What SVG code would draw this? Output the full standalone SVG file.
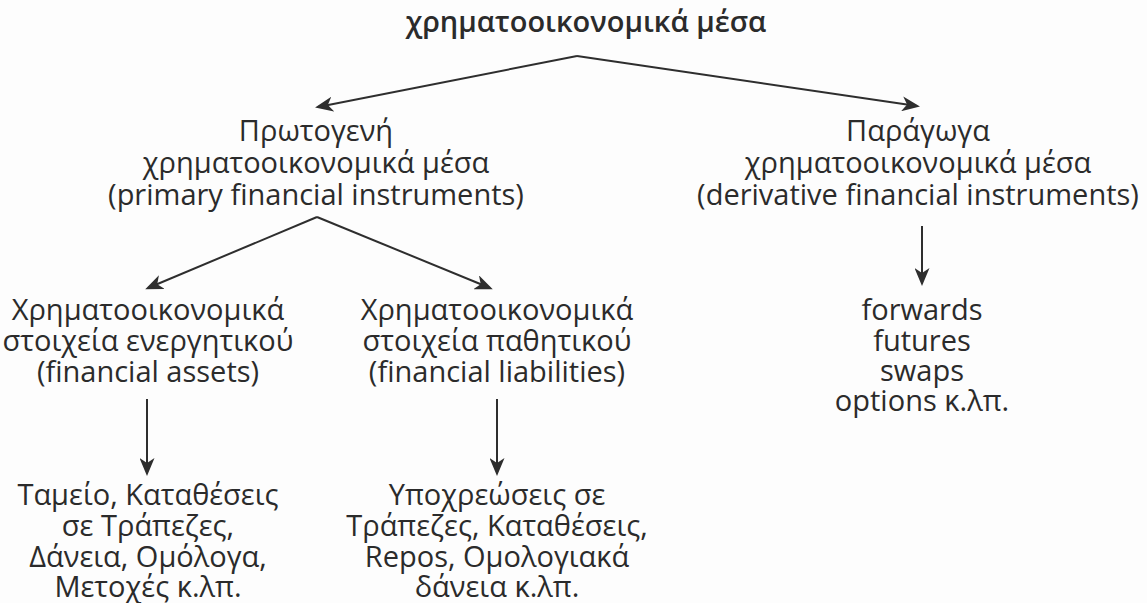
<svg xmlns="http://www.w3.org/2000/svg" width="1147" height="603" viewBox="0 0 1147 603">
<style>
  text { font-family: "Open Sans", "Noto Sans", "DejaVu Sans", sans-serif; font-size: 29px; fill: #2b2b2b; text-anchor: middle; }
  .title { font-weight: 600; }
  .conn line { stroke: #2e2e2e; stroke-width: 2; fill: none; marker-end: url(#arrow); }
</style>
<defs>
  <marker id="arrow" markerUnits="userSpaceOnUse" markerWidth="19" markerHeight="15" refX="15" refY="7.5" orient="auto">
    <path d="M0,0 L18,7.5 L0,15 L5,7.5 Z" fill="#2e2e2e"/>
  </marker>
</defs>
<rect width="1147" height="603" fill="#fdfdfd"/>

<g id="root">
  <text class="title" x="586" y="32">χρηματοοικονομικά μέσα</text>
</g>

<g id="primary">
  <text x="316" y="141">Πρωτογενή</text>
  <text x="316" y="173">χρηματοοικονομικά μέσα</text>
  <text x="316" y="205">(primary financial instruments)</text>
</g>

<g id="derivative">
  <text x="918" y="141">Παράγωγα</text>
  <text x="918" y="173">χρηματοοικονομικά μέσα</text>
  <text x="918" y="205">(derivative financial instruments)</text>
</g>

<g id="assets">
  <text x="148" y="320">Χρηματοοικονομικά</text>
  <text x="148" y="351">στοιχεία ενεργητικού</text>
  <text x="148" y="382">(financial assets)</text>
</g>

<g id="liabilities">
  <text x="497" y="320">Χρηματοοικονομικά</text>
  <text x="497" y="351">στοιχεία παθητικού</text>
  <text x="497" y="382">(financial liabilities)</text>
</g>

<g id="derivative-examples">
  <text x="922" y="320">forwards</text>
  <text x="922" y="350.5">futures</text>
  <text x="922" y="381">swaps</text>
  <text x="922" y="411">options κ.λπ.</text>
</g>

<g id="assets-examples">
  <text x="148" y="505">Ταμείο, Καταθέσεις</text>
  <text x="148" y="536">σε Τράπεζες,</text>
  <text x="148" y="567">Δάνεια, Ομόλογα,</text>
  <text x="148" y="597">Μετοχές κ.λπ.</text>
</g>

<g id="liabilities-examples">
  <text x="497" y="505">Υποχρεώσεις σε</text>
  <text x="497" y="536">Τράπεζες, Καταθέσεις,</text>
  <text x="497" y="567">Repos, Ομολογιακά</text>
  <text x="497" y="597">δάνεια κ.λπ.</text>
</g>

<g id="connectors" class="conn">
  <line x1="577" y1="56" x2="318" y2="107"/>
  <line x1="577" y1="56" x2="917" y2="106"/>
  <line x1="317" y1="217" x2="148" y2="288"/>
  <line x1="317" y1="217" x2="490" y2="288"/>
  <line x1="147" y1="399" x2="147" y2="473"/>
  <line x1="497" y1="399" x2="497" y2="473"/>
  <line x1="922" y1="226" x2="922" y2="283"/>
</g>
</svg>
